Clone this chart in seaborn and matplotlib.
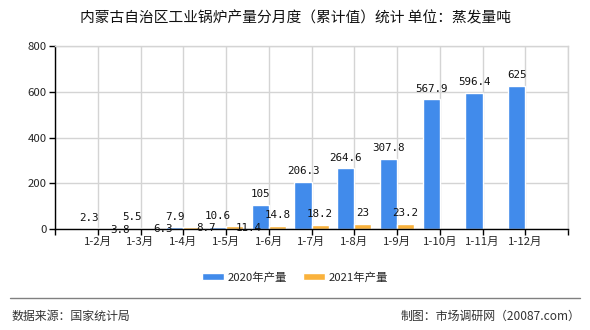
#!/usr/bin/env python3
"""
Inner Mongolia industrial boiler output by month (cumulative), 2020 vs 2021.
Grouped bar chart with value labels, legend below and source footer.
"""

import numpy as np
import pandas as pd
import matplotlib
matplotlib.use("Agg")
import matplotlib.pyplot as plt
import seaborn as sns

# Data
MONTHS = ["1-2月", "1-3月", "1-4月", "1-5月", "1-6月", "1-7月",
          "1-8月", "1-9月", "1-10月", "1-11月", "1-12月"]
VALUES_2020 = [2.3, 5.5, 7.9, 10.6, 105, 206.3, 264.6, 307.8, 567.9, 596.4, 625]
VALUES_2021 = [3.8, 6.3, 8.7, 11.4, 14.8, 18.2, 23, 23.2,
               np.nan, np.nan, np.nan]
SERIES = ["2020年产量", "2021年产量"]
Y_TICKS = [0, 200, 400, 600, 800]

COLORS = {"2020年产量": "#418BEB", "2021年产量": "#FAB23C"}
TITLE = "内蒙古自治区工业锅炉产量分月度（累计值）统计 单位：蒸发量吨"
SOURCE = "数据来源：国家统计局"
CREDIT = "制图：市场调研网（20087.com）"


def main():
    sns.set_theme(style="white")
    plt.rcParams["font.family"] = ["Noto Sans CJK SC", "DejaVu Sans"]
    plt.rcParams["axes.unicode_minus"] = False

    df = pd.DataFrame({
        "month": MONTHS * 2,
        "series": [SERIES[0]] * len(MONTHS) + [SERIES[1]] * len(MONTHS),
        "value": VALUES_2020 + VALUES_2021,
    })

    fig = plt.figure(figsize=(5.9, 3.3), dpi=100)
    ax = fig.add_axes([55 / 590, 1 - 229 / 330, 513 / 590, 183 / 330])

    sns.barplot(
        data=df, x="month", y="value", hue="series",
        order=MONTHS, hue_order=SERIES, palette=COLORS,
        width=0.8, errorbar=None, saturation=1, ax=ax, legend=True,
    )

    # value labels
    n = len(MONTHS)
    for s_idx, container in enumerate(ax.containers):
        for i, bar in enumerate(container):
            h = bar.get_height()
            if h is None or np.isnan(h):
                continue
            cx = bar.get_x() + bar.get_width() / 2
            txt = f"{h:g}"
            if s_idx == 1 and abs(VALUES_2020[i] - VALUES_2021[i]) < 20:
                # crowded next to the blue label: pushed down/right as in source
                ax.annotate(txt, (cx, h), xytext=(10, -1), textcoords="offset points",
                            ha="center", va="center", fontsize=7.8,
                            family="DejaVu Sans Mono", color="#111111")
            else:
                ax.annotate(txt, (cx, h), xytext=(0, 4), textcoords="offset points",
                            ha="center", va="bottom", fontsize=7.8,
                            family="DejaVu Sans Mono", color="#111111")

    ax.set_xlim(-1, n)
    ax.set_ylim(0, 800)
    ax.set_yticks(Y_TICKS)
    ax.set_yticklabels([str(t) for t in Y_TICKS], fontsize=8.2)
    ax.set_xticks(range(-1, n + 1))
    ax.set_xticklabels([""] + MONTHS + [""], fontsize=8.2)
    ax.set_xlabel("")
    ax.set_ylabel("")

    ax.grid(True, axis="both", color="#D4D4D4", linewidth=1)
    ax.set_axisbelow(True)
    for side in ["top", "right"]:
        ax.spines[side].set_color("#D4D4D4")
        ax.spines[side].set_linewidth(1)
    for side in ["left", "bottom"]:
        ax.spines[side].set_color("black")
        ax.spines[side].set_linewidth(1)
    ax.tick_params(axis="both", which="both", direction="out", length=4,
                   width=1, color="black", pad=2, left=True, bottom=True)

    handles, labels = ax.get_legend_handles_labels()
    ax.legend_.remove()
    fig.legend(
        handles, labels, loc="center", bbox_to_anchor=(0.5, 1 - 277 / 330),
        ncol=2, frameon=False, fontsize=8.2, handlelength=1.9,
        handleheight=0.65, handletextpad=0.35, columnspacing=1.4,
    )

    fig.text(0.5, 1 - 18 / 330, TITLE, ha="center", va="center",
             fontsize=10.6, color="#111111")

    fig.add_artist(plt.Line2D([10 / 590, 580 / 590], [1 - 298 / 330] * 2,
                              color="#808080", linewidth=1))
    fig.text(11 / 590, 1 - 316 / 330, SOURCE, ha="left", va="center",
             fontsize=8.6, color="#333333")
    fig.text(580 / 590, 1 - 316 / 330, CREDIT, ha="right", va="center",
             fontsize=8.6, color="#333333")

    fig.savefig("out.png", dpi=100, facecolor="white")
    plt.close(fig)


if __name__ == "__main__":
    main()
